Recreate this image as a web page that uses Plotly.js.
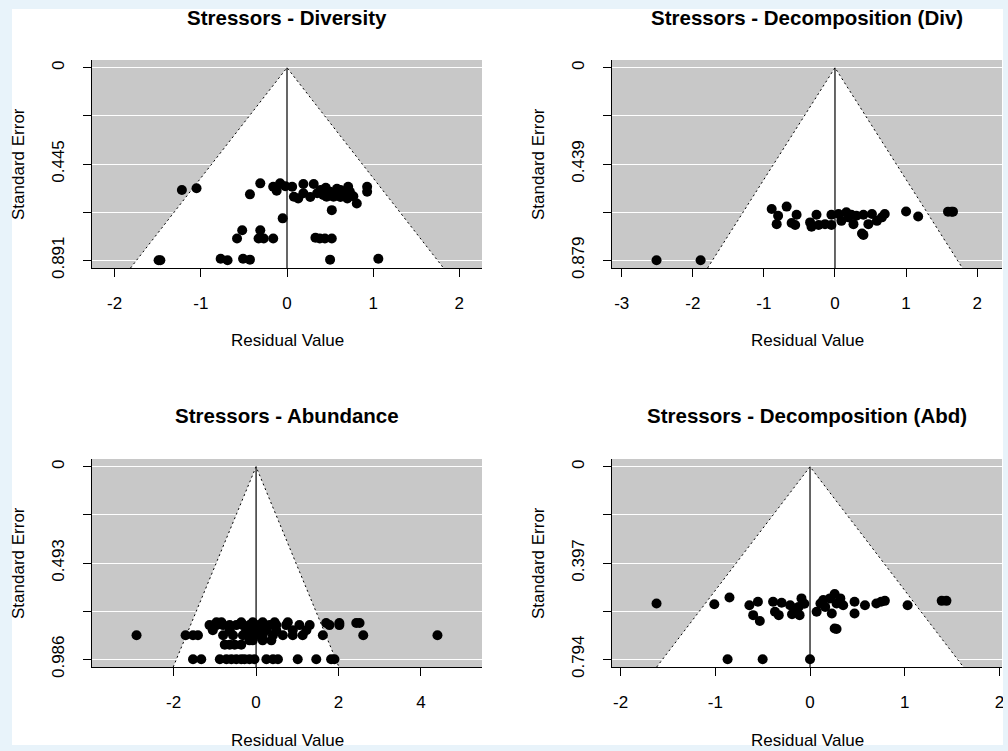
<!DOCTYPE html>
<html><head><meta charset="utf-8">
<script src="https://cdn.plot.ly/plotly-3.0.1.min.js"></script>
<style>
html,body{margin:0;padding:0;background:#e8f3fa;width:1008px;height:751px;overflow:hidden;}
#chart{position:absolute;left:0;top:0;width:1008px;height:751px;}
</style></head><body><div id="chart"></div>
<script>
// ---- data ----
const panelTitles = ['Stressors - Diversity', 'Stressors - Decomposition (Div)', 'Stressors - Abundance', 'Stressors - Decomposition (Abd)'];
const xTitle = 'Residual Value';
const yTitle = 'Standard Error';

const divX  = [-1.22,-1.05,-0.31,-0.43,-0.16,-0.12,-0.08,-0.02,0.06,0.08,0.13,0.19,0.19,0.31,0.35,0.39,0.42,0.46,0.50,0.54,0.58,0.62,0.66,0.71,0.73,0.70,0.81,0.52,0.93,0.93,0.45,0.58,0.62,0.27,0.77,
               -0.05,-0.52,-0.58,-0.31,-0.33,-0.27,-0.16,0.33,0.38,0.44,0.52,-1.49,-1.47,-0.77,-0.69,-0.51,-0.43,0.50,1.06];
const divSE = [0.566,0.558,0.535,0.586,0.551,0.569,0.535,0.548,0.551,0.597,0.605,0.538,0.581,0.538,0.581,0.566,0.589,0.597,0.574,0.597,0.581,0.566,0.589,0.551,0.574,0.605,0.628,0.659,0.551,0.574,0.555,0.560,0.598,0.598,0.595,
               0.697,0.752,0.790,0.752,0.790,0.790,0.790,0.787,0.790,0.790,0.790,0.891,0.891,0.884,0.891,0.884,0.888,0.888,0.884];

const decDivX  = [-0.89,-0.68,-0.80,-0.82,-0.54,-0.61,-0.56,-0.35,-0.33,-0.26,-0.23,-0.14,-0.05,-0.05,0.05,0.09,0.16,0.19,0.23,0.26,0.30,0.40,0.47,0.52,0.59,0.66,0.70,0.40,0.38,1.00,1.17,1.59,1.64,1.66,-2.51,-1.89];
const decDivSE = [0.645,0.634,0.676,0.714,0.671,0.709,0.718,0.706,0.726,0.671,0.718,0.714,0.671,0.718,0.668,0.699,0.660,0.683,0.671,0.714,0.676,0.671,0.714,0.668,0.699,0.683,0.668,0.763,0.757,0.656,0.679,0.657,0.657,0.657,0.879,0.879];

const abdX  = [-2.90,
               -1.71,-1.53,-1.41,-0.80,-0.56,-0.32,-0.16,0.00,0.16,0.41,0.65,0.89,1.13,1.62,2.60,4.40,
               -1.13,-0.96,-0.80,-0.64,-0.48,-0.32,-0.16,0.00,0.16,0.33,0.49,0.73,1.05,1.30,1.78,2.02,2.43,2.51,
               -0.96,-0.84,-0.36,-0.08,0.16,0.45,0.77,1.70,2.02,
               -1.05,-0.64,-0.24,-0.08,0.08,0.25,0.49,0.89,1.22,
               -0.16,-0.08,0.16,0.37,
               -0.76,-0.64,-0.52,-0.36,
               -1.53,-1.33,-0.88,-0.72,-0.60,-0.48,-0.36,-0.28,-0.16,-0.04,0.25,0.41,0.53,1.01,1.46,1.82,1.90];
const abdSE = [0.863,
               0.863,0.863,0.863,0.863,0.863,0.863,0.863,0.863,0.863,0.863,0.863,0.863,0.863,0.863,0.863,0.863,
               0.811,0.811,0.811,0.811,0.811,0.811,0.811,0.811,0.811,0.811,0.811,0.811,0.811,0.811,0.811,0.811,0.800,0.800,
               0.796,0.796,0.796,0.796,0.796,0.796,0.796,0.800,0.800,
               0.837,0.837,0.837,0.837,0.837,0.837,0.837,0.837,0.837,
               0.889,0.889,0.889,0.889,
               0.911,0.911,0.911,0.911,
               0.986,0.986,0.986,0.986,0.986,0.986,0.986,0.986,0.986,0.986,0.986,0.986,0.986,0.986,0.986,0.986,0.986];

const decAbdX  = [-1.62,-1.01,-0.85,-0.64,-0.60,-0.55,-0.53,-0.39,-0.37,-0.33,-0.30,-0.21,-0.19,-0.16,-0.12,-0.09,-0.11,-0.06,0.07,0.11,0.14,0.16,0.21,0.23,0.26,0.28,0.32,0.35,0.26,0.28,0.47,0.47,0.58,0.70,0.75,0.79,1.03,1.39,1.44,-0.87,-0.50,0.00];
const decAbdSE = [0.564,0.567,0.539,0.571,0.612,0.557,0.636,0.557,0.598,0.612,0.561,0.571,0.608,0.591,0.578,0.543,0.612,0.565,0.598,0.564,0.550,0.578,0.543,0.605,0.525,0.564,0.543,0.571,0.667,0.669,0.557,0.605,0.571,0.564,0.557,0.553,0.571,0.553,0.553,0.794,0.794,0.794];

const seTickText = [['0','','0.445','','0.891'], ['0','','0.439','','0.879'], ['0','','0.493','','0.986'], ['0','','0.397','','0.794']];
const xTickVals = [[-2,-1,0,1,2], [-3,-2,-1,0,1,2], [-2,0,2,4], [-2,-1,0,1,2]];

// ---- build ----
const W = 1008, H = 751;
const colPx = [[92,482],[612,1002]];
const rowPx = [[60,268],[459,667]];
const series = [[divX,divSE],[decDivX,decDivSE],[abdX,abdSE],[decAbdX,decAbdSE]];
const FONT = 'Liberation Sans, Arial, Helvetica, sans-serif';
const BORDER = '#e8f3fa';

const traces = [];
function strip(x0, x1, y0, y1) {
  return {type:'rect', xref:'paper', yref:'paper', x0: x0/W, x1: x1/W, y0: 1 - y1/H, y1: 1 - y0/H,
          fillcolor: BORDER, line:{width:0}, layer:'above'};
}
const layout = {
  width: W, height: H, margin: {l:0,r:0,t:0,b:0},
  paper_bgcolor: '#ffffff', plot_bgcolor: '#c8c8c8',
  showlegend: false, font: {family: FONT, size: 17, color: '#000'},
  annotations: [],
  shapes: [strip(0, W, 0, 9), strip(0, 12, 0, H), strip(1003, W, 0, H), strip(0, W, 745, H)]
};

series.forEach(([xs, ses], i) => {
  const k = i + 1;
  const col = i % 2, row = Math.floor(i / 2);
  const xd = [colPx[col][0]/W, colPx[col][1]/W];
  const yd = [1 - rowPx[row][1]/H, 1 - rowPx[row][0]/H];
  const m = Math.max(...ses);
  const yb = m * 1.04, yt = -m * 0.04;
  // metafor-style x limits then R 4% extension
  let lo = Math.min(Math.min(...xs), -1.96*m), hi = Math.max(Math.max(...xs), 1.96*m);
  let r = hi - lo; lo -= 0.1*r; hi += 0.1*r;
  r = hi - lo; lo -= 0.04*r; hi += 0.04*r;
  const xa = 'x' + k, ya = 'y' + k;

  traces.push({x:[-1.96*yb, 0, 1.96*yb], y:[yb, 0, yb], xaxis:xa, yaxis:ya, mode:'lines', fill:'toself', fillcolor:'#ffffff',
               line:{color:'#000', width:1, dash:'2px,3px'}, hoverinfo:'skip'});
  traces.push({x:[0,0], y:[0, yb], xaxis:xa, yaxis:ya, mode:'lines', line:{color:'#000', width:1.2}, hoverinfo:'skip'});
  traces.push({x: xs, y: ses, xaxis:xa, yaxis:ya, mode:'markers', marker:{color:'#000', size:10}});

  const tv = [0, m/4, m/2, 3*m/4, m];
  layout['xaxis' + k] = {domain: xd, anchor: ya, range: [lo, hi], tickvals: xTickVals[i], ticktext: xTickVals[i].map(String),
    ticks:'outside', ticklen:8, tickwidth:1, tickcolor:'#000', showline:true, linecolor:'#000', linewidth:1,
    showgrid:false, zeroline:false, ticklabelstandoff: 12, tickfont:{size:17, family:FONT}};
  layout['yaxis' + k] = {domain: yd, anchor: xa, range: [yb, yt], tickvals: tv, ticktext: seTickText[i], tickangle: -90,
    ticks:'outside', ticklen:8, tickwidth:1, tickcolor:'#000', showline:true, linecolor:'#000', linewidth:1,
    showgrid:true, gridcolor:'#ffffff', gridwidth:1, zeroline:false, ticklabelstandoff: 12, tickfont:{size:17, family:FONT}};

  const cx = (xd[0] + xd[1]) / 2;
  const cy = (yd[0] + yd[1]) / 2;
  const topPx = rowPx[row][0], botPx = rowPx[row][1];
  layout.annotations.push({text: '<b>' + panelTitles[i] + '</b>', xref:'paper', yref:'paper', x: cx, y: 1 - (topPx - 43)/H,
    xanchor:'center', yanchor:'middle', showarrow:false, font:{size:20.5, family:FONT}});
  layout.annotations.push({text: xTitle, xref:'paper', yref:'paper', x: cx, y: 1 - (botPx + 73)/H,
    xanchor:'center', yanchor:'middle', showarrow:false, font:{size:17, family:FONT}});
  layout.annotations.push({text: yTitle, xref:'paper', yref:'paper', x: (colPx[col][0] - 74)/W, y: cy, textangle: -90,
    xanchor:'center', yanchor:'middle', showarrow:false, font:{size:17, family:FONT}});
});

Plotly.newPlot('chart', traces, layout, {displayModeBar:false, staticPlot:true});
</script></body></html>
